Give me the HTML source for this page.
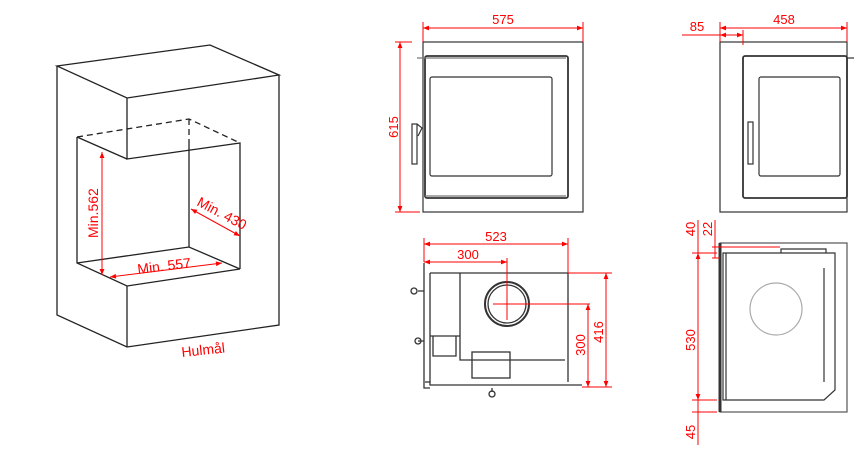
<!DOCTYPE html>
<html><head><style>body{margin:0;background:#fff}svg{display:block}</style></head><body>
<svg width="868" height="449" viewBox="0 0 868 449" xmlns="http://www.w3.org/2000/svg" font-family="Liberation Sans, sans-serif">
<defs>
<marker id="a" viewBox="0 0 10 10" refX="10" refY="5" markerWidth="8" markerHeight="6" orient="auto-start-reverse"><path d="M0,1L10,5L0,9z" fill="#f00"/></marker>
</defs>
<g stroke="#222" stroke-width="1.3" fill="none">
<path d="M57,66L210,45L279,75L127,98Z"/>
<path d="M57,66V315L127,347L279,325V75"/>
<path d="M127,98V159L240,143V269"/>
<path d="M77,137V263L127,286L240,269"/>
<path d="M77,263L189,247L240,269M189,247V143"/>
<path d="M77,137L127,159"/>
<path d="M127,286V347"/>
<path d="M77,137L189,119L240,143M189,119V143" stroke-dasharray="6,4"/>
</g>
<g stroke="#f00" stroke-width="1" marker-start="url(#a)" marker-end="url(#a)">
<line x1="102" y1="152" x2="102" y2="275"/>
<line x1="191" y1="209" x2="240" y2="236"/>
<line x1="110" y1="277" x2="222" y2="263"/>
</g>
<g fill="#f00" font-size="14">
<text transform="translate(98,238) rotate(-90)">Min.562</text>
<text transform="translate(196,205) rotate(28)">Min. 430</text>
<text transform="translate(138,274) rotate(-7)">Min. 557</text>
<text transform="translate(182,357) rotate(-6)">Hulmål</text>
</g>
<g stroke="#333" stroke-width="1.2" fill="none">
<rect x="423" y="42" width="160" height="170"/>
<rect x="425" y="56" width="143" height="142" rx="2" stroke-width="1.8"/>
<rect x="430" y="77" width="122" height="99" rx="2"/>
<rect x="412" y="124" width="5" height="40"/>
<path d="M417,124L422,128L418,136"/>
<path d="M417,58H566M425,196H566" stroke="#777"/>
</g>
<g stroke="#333" stroke-width="1.2" fill="none">
<rect x="720" y="42" width="127" height="170"/>
<rect x="743" y="56" width="104" height="142" rx="2" stroke-width="1.8"/>
<rect x="759" y="77" width="81" height="99" rx="2"/>
<rect x="748" y="122" width="5" height="42"/>
<path d="M847,58H854"/>
</g>
<g stroke="#333" stroke-width="1.3" fill="none">
<path d="M424,263V388H430M430,273H568V382"/>
<path d="M430,273V385H582"/>
<path d="M425,382H430"/>
<path d="M460,273V336H430M460,336V360H565M433,336H456V356H433Z"/>
<rect x="472" y="352" width="38" height="26"/>
<circle cx="507" cy="304" r="22" stroke-width="2"/>
<circle cx="507" cy="304" r="19"/>
<path d="M418,291H424M418,341H424M492,388V392"/>
<circle cx="414" cy="291" r="3"/><circle cx="418" cy="341" r="3"/><circle cx="492" cy="394" r="3"/>
</g>
<g stroke="#f00" stroke-width="1" fill="none">
<path d="M507,258V320M493,304H590"/>
<path d="M568,273H612M582,387H612"/>
</g>
<g stroke="#333" stroke-width="1.2" fill="none">
<rect x="720" y="243" width="127" height="169" stroke="#555"/>
<path d="M720,243V412" stroke-width="3"/>
<path d="M723,253H835V390L824,400H723Z"/>
<path d="M726,253V400"/>
<path d="M781,253V249H826V253"/>
<path d="M824,268V382"/>
<circle cx="776" cy="309" r="26" stroke="#aaa"/>
</g>
<g stroke="#f00" stroke-width="1" fill="none">
<path d="M692,253H717M692,400H717M692,412H717M712,247H780M712,258H720"/>
</g>
<g stroke="#f00" stroke-width="1" marker-start="url(#a)" marker-end="url(#a)">
<line x1="423" y1="28" x2="583" y2="28"/>
<line x1="400" y1="42" x2="400" y2="212"/>
<line x1="720" y1="28" x2="847" y2="28"/>
<line x1="720" y1="35" x2="743" y2="35"/>
<line x1="424" y1="244" x2="568" y2="244"/>
<line x1="424" y1="262" x2="507" y2="262"/>
<line x1="588" y1="304" x2="588" y2="387"/>
<line x1="606" y1="273" x2="606" y2="387"/>
<line x1="698" y1="253" x2="698" y2="400"/>
</g>
<g stroke="#f00" stroke-width="1" fill="none">
<path d="M423,22V42M583,22V42M395,42H412M395,212H420M720,22V42M847,22V42M743,30V45M682,35H720"/>
<path d="M424,238V262M568,238V273"/>
<path d="M698,220V253M698,400V445M715,220V258"/>
</g>
<g fill="#f00" font-size="13" text-anchor="middle">
<text x="503" y="24">575</text>
<text transform="translate(398,127) rotate(-90)">615</text>
<text x="784" y="24">458</text>
<text x="697" y="31">85</text>
<text x="496" y="241">523</text>
<text x="468" y="259">300</text>
<text transform="translate(585,345) rotate(-90)">300</text>
<text transform="translate(603,332) rotate(-90)">416</text>
<text transform="translate(695,229) rotate(-90)">40</text>
<text transform="translate(712,229) rotate(-90)">22</text>
<text transform="translate(695,340) rotate(-90)">530</text>
<text transform="translate(695,432) rotate(-90)">45</text>
</g>
</svg>
</body></html>
